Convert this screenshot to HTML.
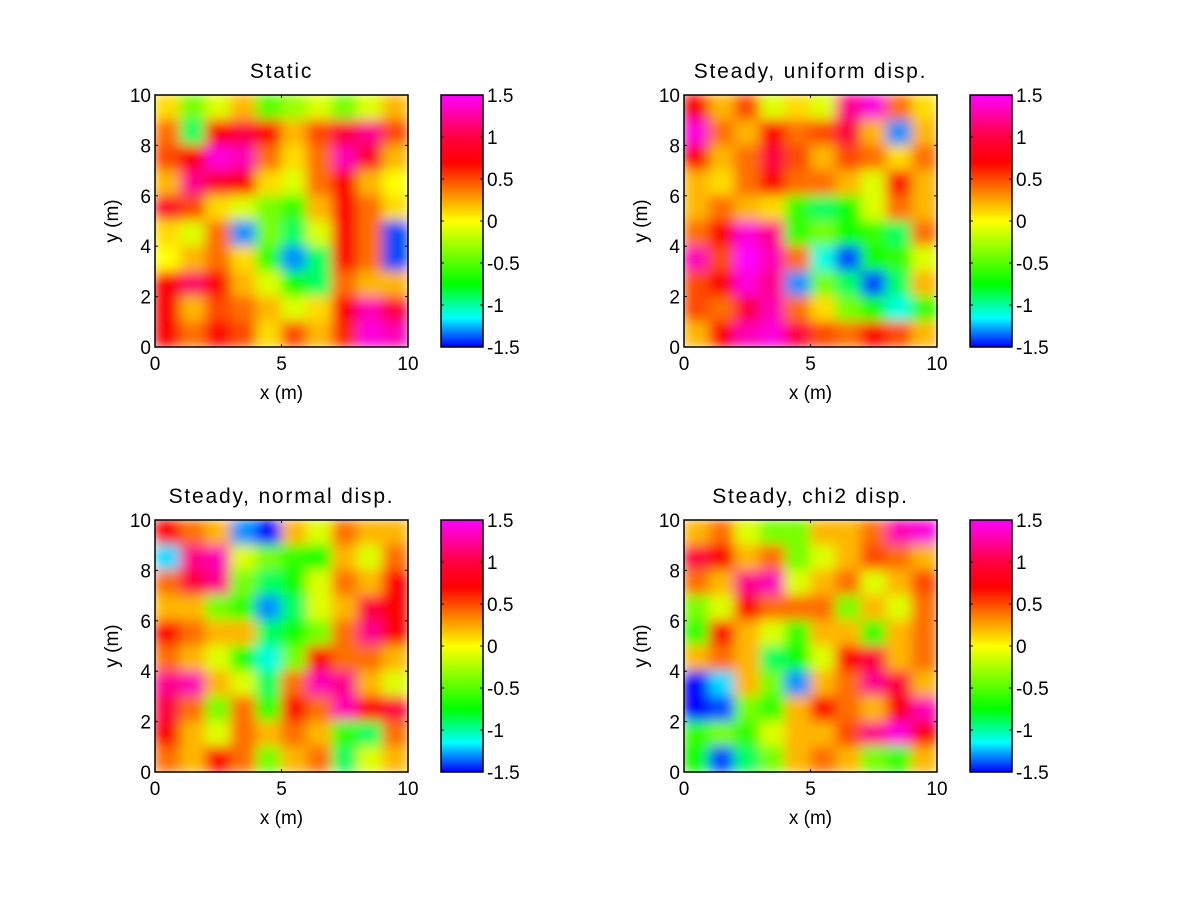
<!DOCTYPE html>
<html><head><meta charset="utf-8">
<style>
body{margin:0;background:#fff;}
svg text{font-family:"Liberation Sans",Arial,sans-serif;font-size:19px;fill:#000;}
svg text.title{font-size:21px;letter-spacing:1.8px;}
</style></head>
<body>
<svg id="fig" width="1200" height="900" viewBox="0 0 1200 900" xmlns="http://www.w3.org/2000/svg">
<defs>
<filter id="blur" x="0" y="0" width="1" height="1"><feGaussianBlur stdDeviation="6" edgeMode="duplicate"/></filter>
<linearGradient id="cmap" x1="0" y1="1" x2="0" y2="0">
<stop offset="0" stop-color="#0000ff"/><stop offset="0.117" stop-color="#00ffff"/>
<stop offset="0.25" stop-color="#00ff00"/><stop offset="0.5" stop-color="#ffff00"/>
<stop offset="0.617" stop-color="#ff8000"/><stop offset="0.733" stop-color="#ff0000"/>
<stop offset="0.833" stop-color="#ff0040"/><stop offset="1" stop-color="#ff00ff"/>
</linearGradient>
</defs>
</svg>
<script>
const titles=["Static","Steady, uniform disp.","Steady, normal disp.","Steady, chi2 disp."];
const xTicks=[0,5,10];
const yTicks=[0,2,4,6,8,10];
const cbTicks=[-1.5,-1,-0.5,0,0.5,1,1.5];
const gridStatic=[
[0.1,-0.4,-0.1,0.2,-0.5,-0.3,-0.1,-0.4,-0.1,0.2],
[0.4,-0.9,0.7,1,0.7,0.2,0.5,1,1.2,0.5],
[0.5,0.7,1.4,1.3,0.4,0.1,0.4,1.3,0.9,0.2],
[0.2,1.2,0.9,0.7,0.1,-0.1,0.4,0.7,0.2,0],
[0.9,0.5,0.1,-0.1,-0.4,-0.6,0.2,0.7,0.4,0.1],
[0.1,-0.1,0.4,-1.3,-0.4,-0.9,-0.1,0.7,0.4,-1.4],
[0,0.2,0.4,0.1,-0.6,-1.3,-0.9,0.7,0.4,-1.4],
[0.7,1.1,0.7,0.2,-0.1,-0.7,-0.9,0.4,0.2,0.2],
[0.7,0.2,0.5,0.4,0.2,-0.1,0.1,0.7,1.3,1.0],
[0.7,0.4,0.7,0.5,0.1,0.5,0.2,0.6,1.4,1.3]];
const gridUniform=[
[0.7,0.2,0.5,-0.1,0.1,-0.1,1.2,1.4,0.4,0.1],
[1.4,0.4,0.2,0.7,0.4,0.5,1.0,0.2,-1.3,0.2],
[0.7,0.2,0.4,1,0.5,0.2,0.5,0.4,0.1,0.4],
[0.2,0.1,0.4,0.7,0.4,0.4,0.2,-0.1,0.7,0.2],
[0.2,0.4,0.2,0.1,-0.6,-0.9,-0.7,-0.1,0.4,0.2],
[0.4,0.7,1.4,1.2,-0.6,-0.4,-0.7,-0.6,-0.9,0.4],
[1.3,0.5,1.5,1.3,0.4,-1.1,-1.4,-0.7,-0.6,-0.1],
[0.5,0.7,1.4,1.2,-1.3,-0.4,-0.9,-1.4,-0.9,0.2],
[0.5,0.4,1,1.3,0.4,0.1,-0.4,-0.7,-1.1,-0.6],
[0.2,0.7,1.3,1.4,1,0.5,0.4,0.7,0.5,0.2]];
const gridNormal=[
[0.7,0.4,0.2,-1.3,-1.5,0.2,-0.1,0.4,0.2,0.2],
[-1.2,1.2,1.3,-0.1,-0.4,-0.6,-0.7,0.2,-0.1,0.4],
[0.4,1.0,1.2,-0.4,-0.9,-0.7,-0.1,0.4,0.2,0.7],
[0.2,0.2,-0.4,-0.6,-1.3,-0.9,-0.1,0.2,1.0,0.7],
[0.7,0.4,0.2,0.2,-0.9,-0.7,-0.4,0.4,1.2,0.7],
[0.4,0.2,-0.1,-0.7,-1.1,-0.4,0.7,0.4,0.4,0.2],
[1.2,1.3,0.2,-0.1,-0.9,0.4,1.3,1.2,0.2,-0.1],
[1.0,0.4,-0.4,0.4,-0.6,0.7,0.4,1.3,0.7,1.0],
[0.7,0.2,-0.1,0.4,0.2,0.4,0.2,-0.6,-0.9,0.4],
[0.4,0.2,0.7,0.4,-0.4,0.2,0.4,-0.9,-0.1,0.2]];
const gridChi2=[
[0.2,0.4,-0.1,-0.4,-0.4,0.2,0.2,0.4,1.3,1.4],
[1.0,0.7,0.2,0.4,-0.4,-0.1,0.2,0.5,0.4,0.2],
[0.4,0.2,1.2,1.3,-0.1,0.2,0.4,-0.1,0.2,0.5],
[-0.4,-0.1,0.7,0.4,0.4,0.4,-0.4,0.2,-0.1,0.4],
[-0.6,0.7,0.2,-0.1,-0.6,0.2,0.2,-0.6,0.2,0.4],
[0.2,0.4,0.2,-0.9,-0.7,-0.1,0.7,1.0,0.2,0.4],
[-1.5,-1.2,0.2,-0.4,-1.3,0.2,0.4,1.2,1.0,0.2],
[-1.5,-1.4,-0.4,-0.6,0.2,0.7,0.4,0.2,0.7,1.3],
[-0.6,-0.4,-0.6,-0.1,0.2,0.2,0.5,1.2,1.4,0.7],
[-0.7,-1.4,-0.9,-0.4,0.2,0.4,0.2,-0.4,-0.6,0.2]];
const grids=[gridStatic,gridUniform,gridNormal,gridChi2];

const stops=[[-1.5,0,0,255],[-1.15,0,255,255],[-0.75,0,255,0],[0,255,255,0],[0.35,255,128,0],[0.7,255,0,0],[1.0,255,0,64],[1.5,255,0,255]];
function cmap(v){v=Math.max(-1.5,Math.min(1.5,v));
 for(let i=1;i<stops.length;i++){if(v<=stops[i][0]){const a=stops[i-1],b=stops[i],t=(v-a[0])/(b[0]-a[0]);
 return `rgb(${Math.round(a[1]+t*(b[1]-a[1]))},${Math.round(a[2]+t*(b[2]-a[2]))},${Math.round(a[3]+t*(b[3]-a[3]))})`;}}
 return "rgb(255,0,255)";}
const NS="http://www.w3.org/2000/svg";
const svg=document.getElementById('fig');
function mk(tag,attrs,parent){const e=document.createElementNS(NS,tag);for(const k in attrs)e.setAttribute(k,attrs[k]);(parent||svg).appendChild(e);return e;}
const panels=[[155,95],[684,95],[155,520],[684,520]];
const W=253,H=252;
panels.forEach((p,pi)=>{
 const [x0,y0]=p;
 const sx=v=>x0+v/10*W, sy=v=>y0+H-v/10*H;
 const g=mk('g',{});
 
 
 mk('clipPath',{id:'c'+pi},g).appendChild((()=>{const r=document.createElementNS(NS,'rect');r.setAttribute('x',x0);r.setAttribute('y',y0);r.setAttribute('width',W);r.setAttribute('height',H);return r;})());
 const hg=mk('g',{'clip-path':`url(#c${pi})`},g);
 const inner=mk('g',{filter:'url(#blur)'},hg);
 
 
 const grid=grids[pi],n=grid.length;
 grid.forEach((row,r)=>row.forEach((v,c)=>{
  const cell=mk('rect',{x:sx(c*10/n)-0.5,y:sy(10-r*10/n)-0.5,width:W/n+1,height:H/n+1,fill:cmap(v)},inner);
  
  
 }));
 mk('rect',{x:x0,y:y0,width:W,height:H,fill:'none',stroke:'#000','stroke-width':1.5},g);
 xTicks.forEach(t=>{const x=sx(t);
  mk('line',{x1:x,y1:y0+H,x2:x,y2:y0+H-3,stroke:'#000'},g);mk('line',{x1:x,y1:y0,x2:x,y2:y0+3,stroke:'#000'},g);
  const tx=mk('text',{x:x,y:y0+H+23,'text-anchor':'middle'},g);tx.textContent=t;
  });
 yTicks.forEach(t=>{const y=sy(t);
  mk('line',{x1:x0,y1:y,x2:x0+3,y2:y,stroke:'#000'},g);mk('line',{x1:x0+W,y1:y,x2:x0+W-3,y2:y,stroke:'#000'},g);
  const tx=mk('text',{x:x0-4,y:y+7,'text-anchor':'end'},g);tx.textContent=t;
  });
 const xl=mk('text',{x:x0+W/2,y:y0+H+52,'text-anchor':'middle'},g);xl.textContent='x (m)';
 
 const yl=mk('text',{x:0,y:0,'text-anchor':'middle',transform:`translate(${x0-37},${y0+H/2}) rotate(-90)`},g);yl.textContent='y (m)';
 
 const ti=mk('text',{x:x0+W/2,y:y0-17,'text-anchor':'middle','class':'title'},g);ti.textContent=titles[pi];
 
 const cx=x0+286,cw=42;
 const cb=mk('g',{},g);
 
 mk('rect',{x:cx,y:y0,width:cw,height:H,fill:'url(#cmap)',stroke:'#000','stroke-width':1.5},cb);
 cbTicks.forEach(t=>{const y=y0+H-(t+1.5)/3*H;
  mk('line',{x1:cx,y1:y,x2:cx+3,y2:y,stroke:'#000'},cb);mk('line',{x1:cx+cw,y1:y,x2:cx+cw-3,y2:y,stroke:'#000'},cb);
  const tx=mk('text',{x:cx+cw+4,y:y+7},cb);tx.textContent=t;
  });
});
</script>
</body></html>
